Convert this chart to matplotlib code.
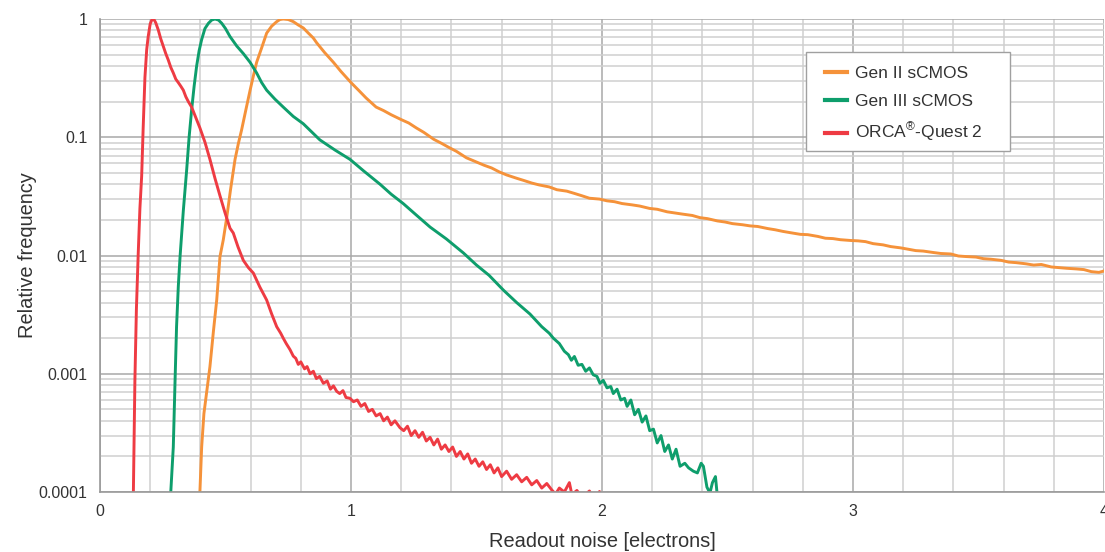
import matplotlib
matplotlib.use("Agg")
import matplotlib.pyplot as plt
from matplotlib.patches import Rectangle
from matplotlib.ticker import MultipleLocator, LogLocator, FixedLocator, NullFormatter

plt.rcParams['font.family'] = ['Liberation Sans', 'DejaVu Sans']
plt.rcParams['mathtext.fontset'] = 'custom'
plt.rcParams['mathtext.rm'] = 'Liberation Sans'

# Gen II sCMOS (orange)
gen2_x = [0.396, 0.398, 0.405, 0.414, 0.425, 0.438, 0.452, 0.465, 0.478, 0.491, 0.505,
          0.520, 0.538, 0.551, 0.564, 0.581, 0.598, 0.611, 0.624, 0.644, 0.664, 0.684,
          0.704, 0.717, 0.730, 0.750, 0.770, 0.790, 0.810, 0.830, 0.850, 0.863, 0.895,
          0.930, 0.960,
          1.00, 1.03, 1.06, 1.10, 1.13, 1.16, 1.20, 1.23, 1.26, 1.29, 1.33, 1.36, 1.39,
          1.42, 1.46, 1.49, 1.53, 1.56, 1.59, 1.62, 1.66, 1.69, 1.72, 1.75, 1.79, 1.82,
          1.86, 1.89, 1.92, 1.95, 1.99, 2.02, 2.05, 2.08, 2.12, 2.15, 2.19, 2.22, 2.26,
          2.29, 2.32, 2.36, 2.39, 2.42, 2.46, 2.49, 2.52, 2.56, 2.59, 2.62, 2.66, 2.69,
          2.72, 2.75, 2.79, 2.82, 2.86, 2.89, 2.92, 2.95, 2.99, 3.02, 3.05, 3.08, 3.12,
          3.15, 3.19, 3.22, 3.25, 3.28, 3.32, 3.35, 3.39, 3.42, 3.45, 3.49, 3.52, 3.55,
          3.59, 3.62, 3.65, 3.69, 3.72, 3.75, 3.79, 3.82, 3.85, 3.89, 3.92, 3.95, 3.98,
          4.00]
gen2_y = [8e-5, 1.0e-4, 2.4e-4, 4.6e-4, 7.0e-4, 1.15e-3, 2.3e-3, 4.2e-3, 9.8e-3, 0.0135, 0.021,
          0.036, 0.065, 0.088, 0.115, 0.17, 0.25, 0.33, 0.43, 0.57, 0.76, 0.87,
          0.95, 0.99, 1.0, 0.99, 0.95, 0.89, 0.84, 0.76, 0.69, 0.63, 0.52,
          0.43, 0.36,
          0.29, 0.25, 0.215, 0.18, 0.168, 0.155, 0.141, 0.132, 0.120, 0.110, 0.096, 0.089, 0.082,
          0.076, 0.067, 0.063, 0.058, 0.055, 0.051, 0.048, 0.045, 0.043, 0.041, 0.0395, 0.038, 0.036,
          0.035, 0.0335, 0.032, 0.0305, 0.030, 0.029, 0.0285, 0.0275, 0.0268, 0.0262, 0.025, 0.0246, 0.0234,
          0.0229, 0.0224, 0.0218, 0.0209, 0.0205, 0.0196, 0.0192, 0.0186, 0.0182, 0.0178, 0.0176, 0.0169, 0.0165,
          0.0160, 0.0156, 0.0151, 0.0150, 0.0145, 0.0140, 0.0139, 0.0136, 0.0134, 0.0133, 0.0131, 0.0126, 0.0123,
          0.0119, 0.0116, 0.0113, 0.0110, 0.0109, 0.0106, 0.0104, 0.0103, 0.0099, 0.0098, 0.0097, 0.0094, 0.0093,
          0.0091, 0.0088, 0.0087, 0.0085, 0.0083, 0.0084, 0.0080, 0.0079, 0.0078, 0.0077, 0.0076, 0.0073, 0.0072,
          0.0074]

# Gen III sCMOS (green)
gen3_x = [0.279, 0.282, 0.292, 0.299, 0.305, 0.312, 0.319, 0.332, 0.345, 0.355, 0.365,
          0.375, 0.385, 0.395, 0.405, 0.418, 0.432, 0.445, 0.458, 0.472, 0.485, 0.500,
          0.518, 0.545, 0.571, 0.598, 0.624, 0.644, 0.664, 0.697, 0.730, 0.770, 0.810,
          0.876, 0.936, 0.996, 1.05, 1.116, 1.160, 1.208, 1.260, 1.315, 1.380, 1.448,
          1.500, 1.550, 1.607, 1.660, 1.713, 1.760, 1.790, 1.806, 1.830, 1.850, 1.866,
          1.878, 1.890, 1.905, 1.920, 1.935, 1.950, 1.965, 1.980, 1.992, 2.005, 2.020,
          2.035, 2.045, 2.060, 2.075, 2.090, 2.100, 2.115, 2.130, 2.145, 2.160, 2.175,
          2.190, 2.205, 2.220, 2.235, 2.250, 2.265, 2.280, 2.295, 2.311, 2.330, 2.345,
          2.364, 2.380, 2.395, 2.404, 2.418, 2.430, 2.440, 2.452, 2.460, 2.470]
gen3_y = [8e-5, 1.0e-4, 2.4e-4, 8.7e-4, 2.5e-3, 5.5e-3, 0.0098, 0.024, 0.052, 0.10, 0.17,
          0.27, 0.40, 0.54, 0.67, 0.83, 0.92, 0.98, 1.0, 0.98, 0.92, 0.83,
          0.71, 0.59, 0.51, 0.43, 0.35, 0.29, 0.25, 0.21, 0.18, 0.15, 0.13,
          0.095, 0.078, 0.065, 0.052, 0.040, 0.033, 0.0275, 0.022, 0.0174, 0.0138, 0.0105,
          0.0083, 0.0068, 0.0051, 0.0040, 0.0032, 0.0025, 0.0022, 0.0020, 0.0018, 0.00155, 0.00145,
          0.00130, 0.00140, 0.00118, 0.00120, 0.00105, 0.00112, 0.00098, 0.00095, 0.00083, 0.00088, 0.00076,
          0.00078, 0.00068, 0.00074, 0.00060, 0.00062, 0.00053, 0.00060, 0.00045, 0.00050, 0.00039, 0.00044,
          0.00033, 0.00034, 0.00026, 0.00030, 0.00022, 0.00025, 0.00019, 0.00023, 0.000165, 0.000175, 0.00016,
          0.000150, 0.000145, 0.000175, 0.000165, 0.000110, 0.000098, 0.00012, 0.000135, 0.00009, 0.00005]

# ORCA-Quest 2 (red)
quest_x = [0.120, 0.133, 0.139, 0.145, 0.152, 0.159, 0.166, 0.172, 0.179, 0.186, 0.192,
           0.200, 0.208, 0.214, 0.222, 0.232, 0.242, 0.252, 0.262, 0.272, 0.282, 0.292,
           0.302, 0.312, 0.322, 0.332, 0.342, 0.352, 0.365, 0.380, 0.398, 0.418, 0.438,
           0.458, 0.478, 0.498, 0.518, 0.531, 0.550, 0.571, 0.591, 0.611, 0.637, 0.664,
           0.684, 0.704, 0.720, 0.730, 0.742, 0.757, 0.770, 0.780, 0.790, 0.800, 0.815,
           0.825, 0.837, 0.850, 0.862, 0.875, 0.890, 0.905, 0.918, 0.930, 0.943, 0.955,
           0.968, 0.980, 0.996, 1.010, 1.025, 1.040, 1.055, 1.070, 1.085, 1.100, 1.116,
           1.130, 1.145, 1.160, 1.175, 1.195, 1.210, 1.225, 1.240, 1.255, 1.270, 1.285,
           1.300, 1.315, 1.330, 1.345, 1.360, 1.375, 1.390, 1.405, 1.420, 1.435, 1.450,
           1.465, 1.480, 1.495, 1.510, 1.525, 1.540, 1.555, 1.570, 1.585, 1.600, 1.620,
           1.640, 1.660, 1.680, 1.700, 1.720, 1.740, 1.760, 1.780, 1.800, 1.815, 1.830,
           1.850, 1.870, 1.880, 1.900, 1.920, 1.950, 1.970, 1.990, 2.010]
quest_y = [3e-5, 1.0e-4, 8.7e-4, 3.5e-3, 0.010, 0.025, 0.047, 0.12, 0.32, 0.55, 0.71,
           0.91, 1.0, 1.0, 0.93, 0.81, 0.68, 0.59, 0.51, 0.45, 0.39, 0.35,
           0.31, 0.29, 0.27, 0.25, 0.22, 0.20, 0.18, 0.15, 0.12, 0.091, 0.065,
           0.045, 0.032, 0.023, 0.017, 0.0155, 0.0118, 0.0091, 0.0079, 0.0071, 0.0054, 0.0042,
           0.0032, 0.0025, 0.0022, 0.0020, 0.0018, 0.0016, 0.00141, 0.00135, 0.00120, 0.00126, 0.00110,
           0.00115, 0.00100, 0.00105, 0.00091, 0.00095, 0.00083, 0.00087, 0.00074, 0.00079, 0.00071, 0.00068,
           0.00072, 0.00063, 0.00062, 0.00058, 0.00060, 0.00053, 0.00056, 0.00048, 0.00050, 0.00044, 0.00046,
           0.00040, 0.00043, 0.00037, 0.00040, 0.00035, 0.00033, 0.00036, 0.00030, 0.00033, 0.00029, 0.00032,
           0.00027, 0.00029, 0.00025, 0.00028, 0.00023, 0.00025, 0.00022, 0.00024, 0.00020, 0.00022, 0.00019,
           0.00021, 0.000175, 0.00019, 0.000165, 0.00018, 0.000155, 0.00017, 0.000145, 0.00016, 0.000135, 0.00015,
           0.000128, 0.00014, 0.000122, 0.000133, 0.000115, 0.000125, 0.000108, 0.000118, 0.000104, 0.000096, 0.000108,
           0.000100, 0.000120, 0.000095, 0.000103, 0.000090, 0.000102, 0.000085, 0.000101, 0.000080]

series_names = ['Gen II sCMOS', 'Gen III sCMOS', r'ORCA$^{\mathrm{®}}$-Quest 2']
series_colors = ['#F5923A', '#0E9E6C', '#EE3B43']

y_ticks = [1e-4, 1e-3, 1e-2, 1e-1, 1]
y_tick_labels = ['0.0001', '0.001', '0.01', '0.1', '1']
x_ticks = [0, 1, 2, 3, 4]
x_tick_labels = ['0', '1', '2', '3', '4']

fig = plt.figure(figsize=(11.05, 5.52), dpi=100)
ax = fig.add_axes([100 / 1105, 60 / 552, 1004 / 1105, 473 / 552])

for xs, ys, name, col in zip([gen2_x, gen3_x, quest_x], [gen2_y, gen3_y, quest_y],
                             series_names, series_colors):
    ax.plot(xs, ys, color=col, lw=2.1, label=name, solid_joinstyle='round')

ax.set_yscale('log')
ax.set_xlim(0, 4)
ax.set_ylim(1e-4, 1)

ax.xaxis.set_major_locator(FixedLocator(x_ticks))
ax.set_xticklabels(x_tick_labels)
ax.xaxis.set_minor_locator(MultipleLocator(0.2))
ax.yaxis.set_major_locator(FixedLocator(y_ticks))
ax.set_yticklabels(y_tick_labels)
ax.yaxis.set_minor_locator(LogLocator(base=10, subs=range(2, 10)))
ax.yaxis.set_minor_formatter(NullFormatter())

ax.grid(True, which='major', color='#a8a8a8', lw=1.1)
ax.grid(True, which='minor', color='#cfcfcf', lw=1.1)
ax.set_axisbelow(True)
ax.tick_params(which='both', length=0, labelsize=11.5, colors='#333333', pad=9)

for side in ['top', 'right']:
    ax.spines[side].set_visible(False)
for side in ['left', 'bottom']:
    ax.spines[side].set_color('#9a9a9a')
    ax.spines[side].set_linewidth(1.2)

ax.set_xlabel('Readout noise [electrons]', fontsize=14.4, color='#333333', labelpad=9)
ax.set_ylabel('Relative frequency', fontsize=14.4, color='#333333', labelpad=1)

# legend box drawn separately so its padding can match the original
box = Rectangle((0.703, 0.721), 0.203, 0.209, transform=ax.transAxes,
                facecolor='white', edgecolor='#a0a0a0', lw=1.0, zorder=4)
ax.add_patch(box)
leg = ax.legend(loc='upper left', bbox_to_anchor=(0.722, 0.900), borderaxespad=0,
                fontsize=12.5, frameon=False, handlelength=1.3,
                handletextpad=0.45, borderpad=0, labelspacing=0.7)
leg.set_zorder(5)
for t in leg.get_texts():
    t.set_color('#333333')
for h in leg.legend_handles:
    h.set_linewidth(3)

fig.savefig('out.png', dpi=100)
